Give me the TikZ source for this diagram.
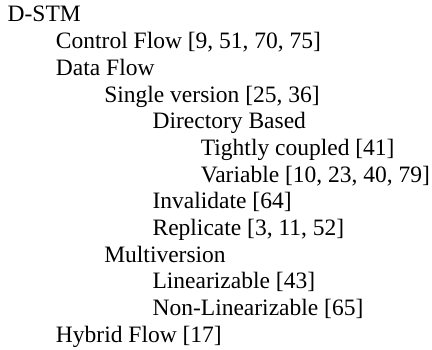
\documentclass[tikz,border=0pt]{standalone}
\usepackage{fontspec}
\setmainfont{Liberation Serif}
\begin{document}
\begin{tikzpicture}[x=1pt,y=1pt,
  item/.style={anchor=base west,inner sep=0pt,font=\fontsize{23.5}{25}\selectfont}]
\useasboundingbox (0,0) rectangle (432,350);
\def\lh{26.7}
\def\ind{48.3}
\node[item] (n0)  at ({7.5+0*\ind},{350-22-0*\lh}) {D-STM};
\node[item] (n1)  at ({7.5+1*\ind},{350-22-1*\lh}) {Control Flow [9, 51, 70, 75]};
\node[item] (n2)  at ({7.5+1*\ind},{350-22-2*\lh}) {Data Flow};
\node[item] (n3)  at ({7.5+2*\ind},{350-22-3*\lh}) {Single version [25, 36]};
\node[item] (n4)  at ({7.5+3*\ind},{350-22-4*\lh}) {Directory Based};
\node[item] (n5)  at ({7.5+4*\ind},{350-22-5*\lh}) {Tightly coupled [41]};
\node[item] (n6)  at ({7.5+4*\ind},{350-22-6*\lh}) {Variable [10, 23, 40, 79]};
\node[item] (n7)  at ({7.5+3*\ind},{350-22-7*\lh}) {Invalidate [64]};
\node[item] (n8)  at ({7.5+3*\ind},{350-22-8*\lh}) {Replicate [3, 11, 52]};
\node[item] (n9)  at ({7.5+2*\ind},{350-22-9*\lh}) {Multiversion};
\node[item] (n10) at ({7.5+3*\ind},{350-22-10*\lh}) {Linearizable [43]};
\node[item] (n11) at ({7.5+3*\ind},{350-22-11*\lh}) {Non-Linearizable [65]};
\node[item] (n12) at ({7.5+1*\ind},{350-22-12*\lh}) {Hybrid Flow [17]};
\end{tikzpicture}
\end{document}
